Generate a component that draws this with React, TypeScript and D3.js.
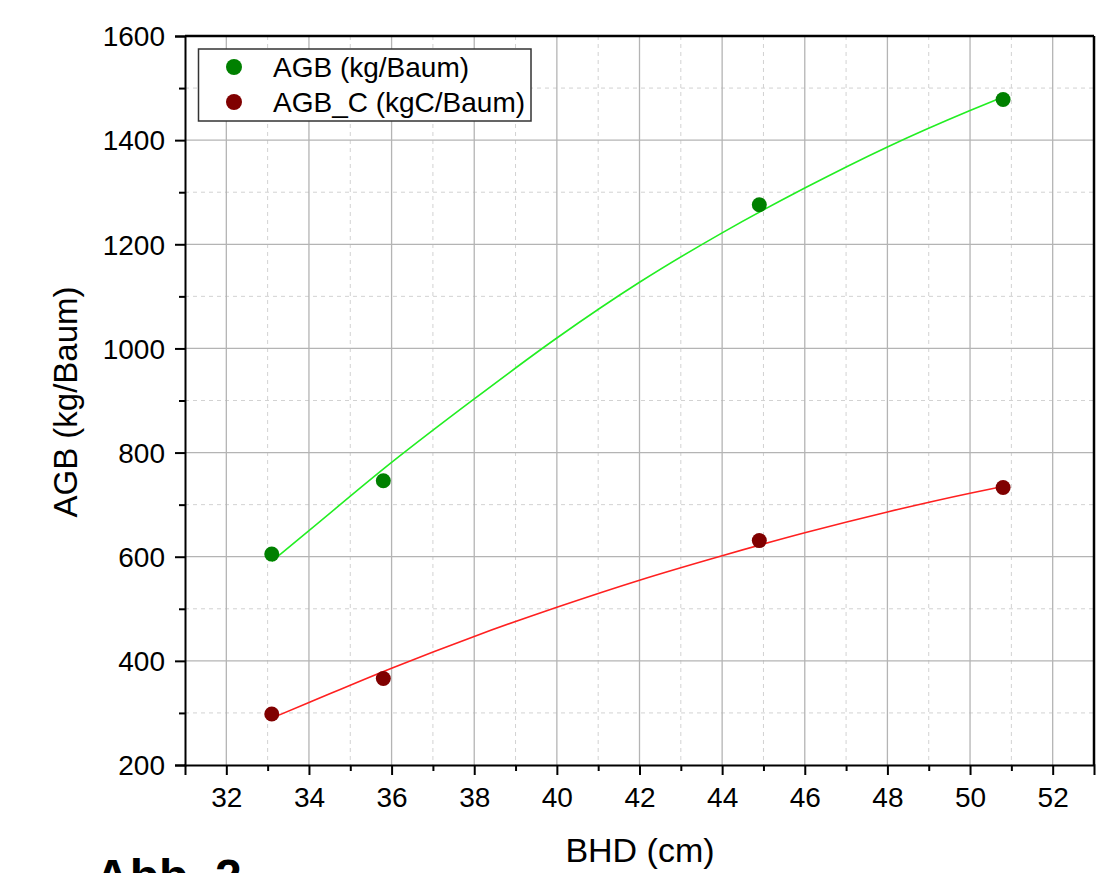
import React, { useRef, useEffect } from 'react';
import * as d3 from 'd3';

// measured points (BHD in cm)
const bhd = [33.1, 35.8, 44.9, 50.8];
const agb = [605, 746, 1276, 1478];
const agbC = [298, 366, 631, 733];

// fit curves
const fitX = [33.1, 34, 36, 38, 40, 42, 44, 46, 48, 50, 50.8];
const agbFit = [591, 650, 781, 903, 1020, 1127, 1222, 1308, 1387, 1457, 1483];
const agbCFit = [290, 320, 386, 447, 503, 555, 602, 646, 686, 722, 735];

const xTicks = [32, 34, 36, 38, 40, 42, 44, 46, 48, 50, 52];
const xMinor = [33, 35, 37, 39, 41, 43, 45, 47, 49, 51];
const yTicks = [200, 400, 600, 800, 1000, 1200, 1400, 1600];
const yMinor = [300, 500, 700, 900, 1100, 1300, 1500];

const legendLabels = ['AGB (kg/Baum)', 'AGB_C (kgC/Baum)'];

const W = 1104;
const H = 873;
const FONT = 'Liberation Sans, Arial, sans-serif';

const App = () => {
    const ref = useRef<SVGSVGElement>(null);

    useEffect(() => {
        document.body.style.margin = '0';
        const svg = d3.select(ref.current);
        svg.selectAll('*').remove();

        const left = 185, right = 1094, top = 36, bottom = 765;

        const x = d3.scaleLinear().domain([31, 53]).range([left, right]);
        const y = d3.scaleLinear().domain([200, 1600]).range([bottom, top]);

        svg.append('rect').attr('width', W).attr('height', H).attr('fill', '#fff');

        // --- grid ---
        const grid = svg.append('g');
        grid.selectAll('.vmin').data(xMinor).enter().append('line')
            .attr('x1', d => x(d)).attr('x2', d => x(d)).attr('y1', top).attr('y2', bottom)
            .attr('stroke', '#d2d2d2').attr('stroke-dasharray', '4,4');
        grid.selectAll('.hmin').data(yMinor).enter().append('line')
            .attr('y1', d => y(d)).attr('y2', d => y(d)).attr('x1', left).attr('x2', right)
            .attr('stroke', '#d2d2d2').attr('stroke-dasharray', '4,4');
        grid.selectAll('.vmaj').data(xTicks).enter().append('line')
            .attr('x1', d => x(d)).attr('x2', d => x(d)).attr('y1', top).attr('y2', bottom)
            .attr('stroke', '#b4b4b4').attr('stroke-width', 1.3);
        grid.selectAll('.hmaj').data(yTicks.slice(1, -1)).enter().append('line')
            .attr('y1', d => y(d)).attr('y2', d => y(d)).attr('x1', left).attr('x2', right)
            .attr('stroke', '#b4b4b4').attr('stroke-width', 1.3);

        // --- fit lines ---
        const line = d3.line<number>()
            .x((d, i) => x(fitX[i]))
            .y(d => y(d))
            .curve(d3.curveMonotoneX);

        svg.append('path').datum(agbFit)
            .attr('fill', 'none').attr('stroke', '#22ee22').attr('stroke-width', 1.6)
            .attr('d', line);
        svg.append('path').datum(agbCFit)
            .attr('fill', 'none').attr('stroke', '#ff2020').attr('stroke-width', 1.6)
            .attr('d', line);

        // --- points ---
        svg.selectAll('.pg').data(agb).enter().append('circle')
            .attr('cx', (d, i) => x(bhd[i])).attr('cy', d => y(d))
            .attr('r', 7.5).attr('fill', '#008000');
        svg.selectAll('.pr').data(agbC).enter().append('circle')
            .attr('cx', (d, i) => x(bhd[i])).attr('cy', d => y(d))
            .attr('r', 7.5).attr('fill', '#800000');

        // --- axes ---
        const yAxis = svg.append('g').attr('transform', `translate(${left},0)`)
            .call(d3.axisLeft(y).tickValues(yTicks).tickSize(10).tickPadding(10).tickFormat(d3.format('d')));
        svg.append('g').attr('transform', `translate(${left},0)`)
            .call(d3.axisLeft(y).tickValues(yMinor).tickSize(6).tickFormat(() => ''))
            .select('.domain').remove();
        const xAxis = svg.append('g').attr('transform', `translate(0,${bottom})`)
            .call(d3.axisBottom(x).tickValues(xTicks).tickSize(10).tickPadding(12));
        svg.append('g').attr('transform', `translate(0,${bottom})`)
            .call(d3.axisBottom(x).tickValues(xMinor).tickSize(6).tickFormat(() => ''))
            .select('.domain').remove();

        svg.selectAll('.tick line').attr('stroke', '#000').attr('stroke-width', 2);
        svg.selectAll('.domain').attr('stroke', '#000').attr('stroke-width', 2);
        [yAxis, xAxis].forEach(a => a.selectAll('text')
            .attr('fill', '#000').style('font-family', FONT).style('font-size', '28px'));
        yAxis.selectAll('text').attr('dy', '0.35em');
        xAxis.selectAll('text').attr('dy', '0.71em');

        // frame top/right
        svg.append('line').attr('x1', left).attr('x2', right).attr('y1', top).attr('y2', top)
            .attr('stroke', '#000').attr('stroke-width', 2.5);
        svg.append('line').attr('x1', right).attr('x2', right).attr('y1', top).attr('y2', bottom)
            .attr('stroke', '#000').attr('stroke-width', 2.5);

        // --- titles ---
        svg.append('text').attr('x', 640).attr('y', 862)
            .attr('text-anchor', 'middle').style('font-family', FONT).style('font-size', '34px')
            .text('BHD (cm)');
        svg.append('text').attr('transform', `translate(77,402) rotate(-90)`)
            .attr('text-anchor', 'middle').style('font-family', FONT).style('font-size', '33px')
            .text('AGB (kg/Baum)');

        // --- legend ---
        const lg = svg.append('g');
        lg.append('rect').attr('x', 198.5).attr('y', 49).attr('width', 332.5).attr('height', 72)
            .attr('fill', '#fff').attr('stroke', '#333').attr('stroke-width', 1.5);
        const colors = ['#008000', '#800000'];
        legendLabels.forEach((t, i) => {
            lg.append('circle').attr('cx', 234).attr('cy', 67 + i * 35).attr('r', 8).attr('fill', colors[i]);
            lg.append('text').attr('x', 273).attr('y', 67 + i * 35).attr('dy', '0.36em')
                .style('font-family', FONT).style('font-size', '28px').text(t);
        });

        // caption below, cut off by the page edge as in the source
        svg.append('text').attr('x', 95).attr('y', 893)
            .style('font-family', FONT).style('font-size', '48px').style('font-weight', 'bold')
            .text('Abb. 2');
    }, []);

    return (
        <svg ref={ref} width={W} height={H} style={{ display: 'block' }}></svg>
    );
};

export default App;
